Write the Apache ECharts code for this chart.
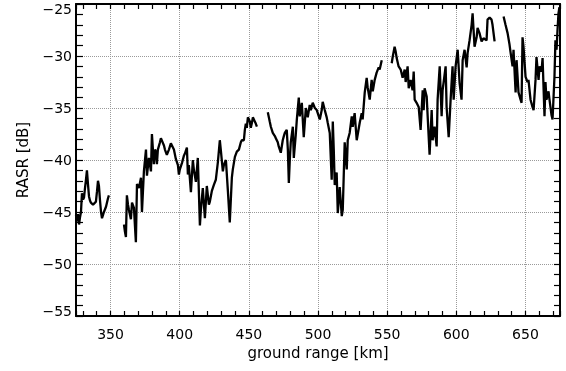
<!DOCTYPE html>
<html>
<head>
<meta charset="utf-8">
<script src="https://cdn.jsdelivr.net/npm/echarts@6/dist/echarts.min.js"></script>
<style>
  html, body { margin: 0; padding: 0; background: #fff; }
  #chart { width: 566px; height: 371px; }
</style>
</head>
<body>
<div id="chart"></div>
<script>
// RASR profile along ground range, drawn as five separate swath segments.
const seg1Km = [325.0,325.7,326.4,327.2,327.9,328.6,329.3,330.1,330.8,331.5,332.2,332.9,333.7,334.4,335.1,335.8,337.3,338.7,339.4,340.2,340.9,341.6,342.3,343.1,343.8,344.5,345.2,346.7,348.1,348.8];
const seg1Db = [-45.3,-45.9,-45.2,-46.2,-45.5,-45.0,-43.2,-43.8,-43.6,-42.7,-41.9,-41.0,-42.4,-43.5,-43.9,-44.1,-44.3,-44.2,-44.0,-43.0,-42.0,-42.5,-43.8,-45.0,-45.6,-45.3,-45.0,-44.5,-43.7,-43.4];

const seg2Km = [359.7,360.4,361.1,361.8,362.6,363.3,364.7,365.5,366.9,368.3,
  369.1,370.5,372.0,372.7,374.1,375.6,376.3,377.7,379.2,379.9,
  381.3,382.1,382.8,383.5,384.2,385.7,386.4,387.1,388.6,389.3,
  390.7,392.2,393.6,394.4,395.8,397.2,398.7,399.4,400.1,401.6,
  403.0,403.7,405.2,405.9,406.6,408.1,409.5,410.2,411.7,413.1,
  414.6,415.3,416.7,418.2,419.6,421.1,421.8,423.2,424.7,426.1,
  427.6,429.0,429.7,431.2,431.9,433.4,434.8,436.2,437.7,438.4,
  439.9,441.3,442.8,444.2,444.9,446.4,447.1,447.8,448.5,449.3,
  450.0,450.7,451.4,452.1,452.9,454.3,455.0,455.8];
const seg2Db = [-46.2,-46.9,-47.4,-43.4,-44.3,-44.8,-45.7,-44.1,-44.6,-47.9,
  -42.3,-42.7,-41.7,-45.0,-41.1,-39.0,-41.5,-39.8,-41.1,-37.5,
  -40.4,-39.0,-39.2,-40.4,-39.0,-38.3,-37.9,-38.0,-38.6,-39.0,
  -39.5,-39.0,-38.4,-38.3,-39.0,-39.9,-40.5,-41.4,-40.9,-40.3,
  -39.6,-39.4,-38.8,-41.4,-40.5,-43.1,-40.0,-40.9,-42.1,-39.8,
  -46.3,-44.8,-42.7,-45.6,-42.5,-44.3,-44.0,-43.0,-42.4,-41.9,
  -40.2,-38.1,-39.0,-41.1,-40.5,-40.0,-42.9,-46.0,-41.7,-40.9,
  -39.7,-39.2,-39.0,-38.3,-38.1,-38.1,-37.1,-36.5,-36.9,-35.9,
  -35.8,-36.3,-36.9,-36.5,-35.9,-36.3,-36.5,-36.8];

const seg3Km = [463.7,465.1,465.9,467.3,468.8,469.5,470.9,471.6,473.1,474.5,
  475.3,476.0,477.4,478.2,478.9,479.6,480.3,481.8,482.5,483.9,
  484.7,486.1,486.8,488.3,489.7,491.2,492.6,494.0,494.8,496.2,
  497.7,499.1,499.8,501.3,502.7,503.4,504.9,506.3,507.0,508.5,
  509.9,510.7,511.4,512.1,513.5,514.3,515.7,517.2,517.9,519.3,
  520.8,521.5,522.9,524.4,525.1,526.5,528.0,530.2,531.6,532.3,
  533.8,535.2,535.9,537.4,538.8,539.6,541.0,542.4,543.9,544.6,
  546.1];
const seg3Db = [-35.4,-36.3,-36.8,-37.4,-37.7,-37.9,-38.3,-38.7,-39.3,-38.1,
  -37.7,-37.4,-37.1,-39.0,-42.2,-40.0,-38.3,-36.8,-39.8,-37.6,
  -36.1,-34.0,-35.8,-34.5,-37.8,-35.0,-35.9,-34.7,-35.2,-34.5,
  -35.0,-35.2,-35.5,-36.1,-35.2,-34.4,-35.2,-35.9,-36.4,-37.4,
  -41.9,-36.3,-39.0,-42.4,-41.2,-45.1,-42.6,-45.4,-44.8,-38.3,
  -40.9,-38.1,-37.4,-35.8,-36.8,-35.5,-38.1,-36.4,-35.5,-36.1,
  -33.5,-32.1,-33.0,-34.2,-32.3,-33.4,-32.3,-31.6,-31.1,-31.3,
  -30.4];

const seg4Km = [553.3,554.0,555.4,556.2,556.9,558.3,559.8,561.2,562.7,563.4,
  564.8,565.6,567.0,568.4,569.2,569.9,571.3,572.8,574.2,575.7,
  576.4,577.1,578.6,579.3,580.7,582.2,582.9,584.3,585.8,586.5,
  588.0,589.4,590.1,592.3,593.0,594.5,595.9,597.3,598.1,599.5,
  601.0,602.4,603.8,604.6,606.0,607.5,608.2,609.6,611.1,611.8,
  613.2,614.7,615.4,616.8,618.3,619.7,621.9,622.6,624.1,625.5,
  626.2,627.7];
const seg4Db = [-30.7,-30.1,-29.1,-29.6,-30.2,-31.0,-31.3,-32.1,-31.3,-32.5,
  -31.0,-33.1,-32.3,-33.3,-31.5,-34.2,-34.5,-34.9,-37.1,-33.3,
  -35.2,-33.1,-33.9,-35.8,-39.5,-35.2,-38.1,-36.8,-38.7,-34.2,
  -31.0,-35.8,-33.3,-31.0,-34.9,-37.8,-34.2,-31.0,-34.2,-31.0,
  -29.4,-32.6,-34.2,-30.4,-29.4,-31.1,-29.7,-28.5,-27.0,-25.9,
  -29.1,-28.2,-27.3,-27.8,-28.6,-28.3,-28.5,-26.5,-26.3,-26.5,
  -27.0,-28.6];

const seg5Km = [634.2,635.6,637.1,638.5,639.2,640.7,641.4,642.9,643.6,645.0,
  646.5,647.2,647.9,648.6,650.1,651.5,652.2,653.7,655.1,655.9,
  657.3,658.0,659.5,660.2,661.6,662.4,663.8,664.5,665.2,666.7,
  667.4,668.9,669.6,671.0,671.7,672.5,673.2,673.9,674.6];
const seg5Db = [-26.2,-27.0,-27.8,-28.9,-29.6,-31.0,-29.4,-33.5,-30.4,-33.5,
  -34.2,-34.5,-28.2,-29.1,-32.0,-32.5,-32.3,-34.2,-34.9,-35.2,
  -32.3,-30.1,-32.3,-31.0,-31.5,-30.2,-35.8,-32.5,-34.2,-33.4,
  -34.2,-35.7,-36.1,-32.0,-28.5,-29.4,-27.5,-25.9,-25.3];

// Axis ranges and labelled ticks
const rangeMin = 325, rangeMax = 675;
const rasrMin = -55, rasrMax = -25, rasrStep = 5;
const xTickLabels = [350, 400, 450, 500, 550, 600, 650];
const yTickLabels = [-55, -50, -45, -40, -35, -30, -25];

const segments = [
  [seg1Km, seg1Db], [seg2Km, seg2Db], [seg3Km, seg3Db], [seg4Km, seg4Db], [seg5Km, seg5Db]
];

const FONT = 'DejaVu Sans';
const fmtNum = v => String(v).replace('-', '\u2212');

const boxLine = { show: true, onZero: false, lineStyle: { color: '#000', width: 2 } };
const gridLine = { show: true, lineStyle: { color: '#9a9a9a', type: 'dotted', width: 1 } };

const chart = echarts.init(document.getElementById('chart'), null, { renderer: 'canvas' });
chart.setOption({
  backgroundColor: '#fff',
  animation: false,
  grid: { left: 76, right: 6, top: 4, bottom: 55, containLabel: false },
  xAxis: [
    {
      type: 'value', position: 'bottom', min: rangeMin, max: rangeMax, splitNumber: 7,
      axisLine: boxLine,
      axisTick: { show: true, inside: true, length: 5, lineStyle: { color: '#000', width: 1.2 } },
      minorTick: { show: true, splitNumber: 5, length: 5, lineStyle: { color: '#000', width: 1.2 } },
      splitLine: gridLine,
      axisLabel: {
        show: true, margin: 12, color: '#000', fontFamily: FONT, fontSize: 14,
        showMinLabel: false, showMaxLabel: false,
        formatter: v => xTickLabels.includes(v) ? fmtNum(v) : ''
      },
      name: 'ground range [km]', nameLocation: 'middle', nameGap: 31,
      nameTextStyle: { color: '#000', fontFamily: FONT, fontSize: 15 }
    },
    {
      type: 'value', position: 'top', min: rangeMin, max: rangeMax, splitNumber: 7,
      axisLine: boxLine,
      axisTick: { show: true, inside: true, length: 5, lineStyle: { color: '#000', width: 1.2 } },
      minorTick: { show: true, splitNumber: 5, length: 5, lineStyle: { color: '#000', width: 1.2 } },
      splitLine: { show: false },
      axisLabel: { show: false }
    }
  ],
  yAxis: [
    {
      type: 'value', position: 'left', min: rasrMin, max: rasrMax, interval: rasrStep,
      axisLine: boxLine,
      axisTick: { show: true, inside: true, length: 7, lineStyle: { color: '#000', width: 1.2 } },
      minorTick: { show: true, splitNumber: 5, length: 7, lineStyle: { color: '#000', width: 1.2 } },
      splitLine: gridLine,
      axisLabel: {
        show: true, margin: 4, color: '#000', fontFamily: FONT, fontSize: 14,
        formatter: v => {
          if (!yTickLabels.includes(v)) return '';
          const t = fmtNum(v);
          if (v === rasrMax) return '{hi|' + t + '}';
          if (v === rasrMin) return '{lo|' + t + '}';
          return '{mid|' + t + '}';
        },
        rich: {
          hi: { fontFamily: FONT, fontSize: 14, color: '#000', padding: [12, 0, 0, 0] },
          lo: { fontFamily: FONT, fontSize: 14, color: '#000', padding: [0, 0, 8, 0] },
          mid: { fontFamily: FONT, fontSize: 14, color: '#000', padding: [3, 0, 0, 0] }
        }
      },
      name: 'RASR [dB]', nameLocation: 'middle', nameGap: 44, nameRotate: 90,
      nameTextStyle: { color: '#000', fontFamily: FONT, fontSize: 15 }
    },
    {
      type: 'value', position: 'right', min: rasrMin, max: rasrMax, interval: rasrStep,
      axisLine: boxLine,
      axisTick: { show: true, inside: true, length: 6, lineStyle: { color: '#000', width: 1.2 } },
      minorTick: { show: true, splitNumber: 5, length: 6, lineStyle: { color: '#000', width: 1.2 } },
      splitLine: { show: false },
      axisLabel: { show: false }
    }
  ],
  series: segments.map(([km, db]) => ({
    type: 'line',
    xAxisIndex: 0,
    yAxisIndex: 0,
    data: km.map((x, i) => [x, db[i]]),
    showSymbol: false,
    symbol: 'none',
    lineStyle: { color: '#000', width: 2.3 },
    z: 3
  }))
});
</script>
</body>
</html>
